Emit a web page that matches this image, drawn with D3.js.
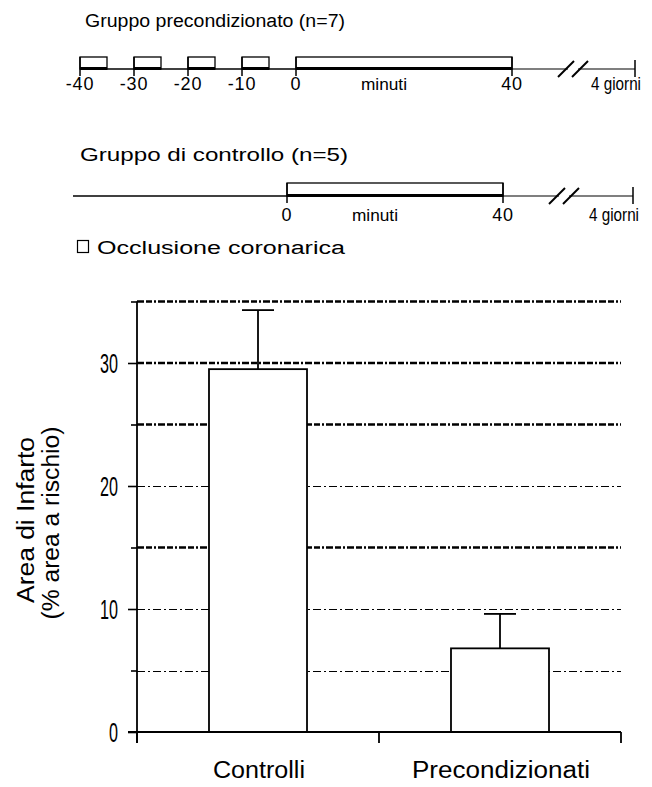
<!DOCTYPE html>
<html><head><meta charset="utf-8">
<script src="https://cdn.jsdelivr.net/npm/d3@7"></script>
<style>
body{margin:0;background:#fff}
text{font-family:"Liberation Sans",Arial,sans-serif;fill:#000}
</style>
</head><body>
<svg id="c" width="652" height="787"></svg>
<script>
// ---- data ----
const categories = ["Controlli", "Precondizionati"];
const means = [29.5, 6.8];
const errors = [4.8, 2.8];
const yTicks = [0, 5, 10, 15, 20, 25, 30, 35];
const yTickLabels = ["0", "", "10", "", "20", "", "30", ""];
const boldGrid = [15, 25, 30, 35];
const yLabel = ["Area di Infarto", "(% area a rischio)"];

const precondTitle = "Gruppo precondizionato (n=7)";
const precondOcclusions = [[-40, -35], [-30, -25], [-20, -15], [-10, -5], [0, 40]];
const precondTicks = [-40, -30, -20, -10, 0, 40];
const controlTitle = "Gruppo di controllo (n=5)";
const controlOcclusions = [[0, 40]];
const controlTicks = [0, 40];
const unitLabel = "minuti";
const endLabel = "4 giorni";
const legendLabel = "Occlusione coronarica";

// ---- drawing ----
const svg = d3.select("#c");
svg.append("rect").attr("width", 652).attr("height", 787).attr("fill", "#fff");

function smallText(x, y, s, anchor, len, size) {
  const t = svg.append("text").attr("x", x).attr("y", y)
    .attr("font-size", size || 18)
    .attr("text-anchor", anchor || "start").text(s);
  if (len) t.attr("textLength", len).attr("lengthAdjust", "spacingAndGlyphs");
  else t.attr("letter-spacing", 0.8);
  return t;
}

function timeline(o) {
  const x = d3.scaleLinear().domain(o.domain).range(o.range);
  const g = svg.append("g").attr("stroke", "#000").attr("fill", "none");
  const x40 = x(40);
  g.append("line").attr("x1", o.lineStart).attr("x2", x40)
    .attr("y1", o.baseY).attr("y2", o.baseY).attr("stroke-width", 1.6);
  o.occ.forEach(([a, b]) => {
    g.append("rect").attr("x", x(a)).attr("y", o.boxTop)
      .attr("width", x(b) - x(a)).attr("height", o.baseY - o.boxTop)
      .attr("fill", "#fff").attr("stroke-width", 1.3);
    g.append("line").attr("x1", x(a)).attr("x2", x(b))
      .attr("y1", o.baseY - 0.5).attr("y2", o.baseY - 0.5).attr("stroke-width", 3);
  });
  o.ticks.forEach(t => {
    g.append("line").attr("x1", x(t)).attr("x2", x(t))
      .attr("y1", o.boxTop).attr("y2", o.baseY + 7).attr("stroke-width", 1.5);
    smallText(x(t), o.labelY, String(t), "middle");
  });
  const b1 = x40 + 54, b2 = x40 + 68, end = x40 + o.endOff;
  g.append("line").attr("x1", x40).attr("x2", b1 + 2).attr("y1", o.baseY).attr("y2", o.baseY).attr("stroke-width", 1.2);
  g.append("line").attr("x1", b2 - 2).attr("x2", end).attr("y1", o.baseY).attr("y2", o.baseY).attr("stroke-width", 1.2);
  [b1, b2].forEach(c => {
    g.append("line").attr("x1", c - 8).attr("y1", o.baseY + 8)
      .attr("x2", c + 8).attr("y2", o.baseY - 8).attr("stroke-width", 2);
  });
  g.append("line").attr("x1", end).attr("x2", end)
    .attr("y1", o.baseY - 9).attr("y2", o.baseY + 8).attr("stroke-width", 1.5);
  smallText(x(0) + 88, o.labelY, unitLabel, "middle", 46, 17);
  smallText(end - 19, o.labelY, endLabel, "middle", 50, 18);
  smallText(o.titleX, o.titleY, o.title, "start", o.titleLen);
}

timeline({domain: [-40, 40], range: [80, 512], lineStart: 80, baseY: 69, boxTop: 57,
  labelY: 90, occ: precondOcclusions, ticks: precondTicks, endOff: 123,
  title: precondTitle, titleX: 85, titleY: 27, titleLen: 260});
timeline({domain: [0, 40], range: [287, 503], lineStart: 73, baseY: 196, boxTop: 183,
  labelY: 221, occ: controlOcclusions, ticks: controlTicks, endOff: 130,
  title: controlTitle, titleX: 80, titleY: 161, titleLen: 268});

// legend
svg.append("rect").attr("x", 77.5).attr("y", 240.5).attr("width", 11).attr("height", 12)
  .attr("fill", "#fff").attr("stroke", "#000").attr("stroke-width", 1.2);
smallText(97, 254, legendLabel, "start", 248);

// ---- bar chart ----
const y = d3.scaleLinear().domain([0, 35]).range([732, 301.5]);
const xb = d3.scaleBand().domain(categories).range([137, 621]).paddingInner(0.595).paddingOuter(0.2975);
const step = xb.step();

const grid = svg.append("g");
yTicks.filter(d => d > 0).forEach(d => {
  const bold = boldGrid.includes(d);
  const yy = bold ? y(d) : Math.round(y(d)) + 0.5;
  grid.append("line").attr("x1", 137).attr("x2", 621)
    .attr("y1", yy).attr("y2", yy).attr("stroke", "#000")
    .attr("stroke-width", bold ? 2.6 : 1)
    .attr("stroke-dasharray", bold ? "7,2,6,2,2,2" : "8,3,2,3");
});

categories.forEach((c, i) => {
  const cx = xb(c) + xb.bandwidth() / 2;
  svg.append("line").attr("x1", cx).attr("x2", cx)
    .attr("y1", y(means[i])).attr("y2", y(means[i] + errors[i]))
    .attr("stroke", "#000").attr("stroke-width", 1.8);
  svg.append("line").attr("x1", cx - 16).attr("x2", cx + 16)
    .attr("y1", y(means[i] + errors[i])).attr("y2", y(means[i] + errors[i]))
    .attr("stroke", "#000").attr("stroke-width", 1.8);
  svg.append("rect").attr("x", xb(c)).attr("y", y(means[i]))
    .attr("width", xb.bandwidth()).attr("height", y(0) - y(means[i]))
    .attr("fill", "#fff").attr("stroke", "#000").attr("stroke-width", 1.8);
});

const yAxis = svg.append("g").attr("transform", "translate(137,0)")
  .call(d3.axisLeft(y).tickValues(yTicks).tickFormat((d, i) => yTickLabels[i]).tickSizeOuter(0));
yAxis.select(".domain").attr("stroke-width", 1.8).attr("d", `M0,${y(35)}V743`);
yAxis.selectAll(".tick line").attr("stroke-width", 1.6)
  .attr("x2", d => (d % 10 === 0 ? -9 : -6));
yAxis.selectAll(".tick text").attr("x", -19).attr("dy", "0.36em")
  .attr("font-size", 27).attr("font-family", "Liberation Sans, Arial, sans-serif")
  .each(function() {
    const t = d3.select(this).text();
    if (t) d3.select(this).attr("textLength", t.length * 9).attr("lengthAdjust", "spacingAndGlyphs");
  });

const xg = svg.append("g").attr("stroke", "#000").attr("stroke-width", 1.8);
xg.append("line").attr("x1", 128).attr("x2", 621).attr("y1", y(0)).attr("y2", y(0));
const bounds = categories.map(c => xb(c) - (step - xb.bandwidth()) / 2).concat([621]);
bounds.forEach(b => xg.append("line").attr("x1", b).attr("x2", b).attr("y1", y(0)).attr("y2", 743));
categories.forEach((c, i) => {
  svg.append("text").attr("x", xb(c) + xb.bandwidth() / 2 + 1).attr("y", 778)
    .attr("font-size", 23).attr("text-anchor", "middle")
    .attr("textLength", i === 0 ? 92 : 178).attr("lengthAdjust", "spacingAndGlyphs").text(c);
});

svg.append("text").attr("transform", "translate(34,520) rotate(-90)")
  .attr("font-size", 23).attr("text-anchor", "middle")
  .attr("textLength", 166).attr("lengthAdjust", "spacingAndGlyphs").text(yLabel[0]);
svg.append("text").attr("transform", "translate(59,523) rotate(-90)")
  .attr("font-size", 23).attr("text-anchor", "middle")
  .attr("textLength", 193).attr("lengthAdjust", "spacingAndGlyphs").text(yLabel[1]);
</script>
</body></html>
